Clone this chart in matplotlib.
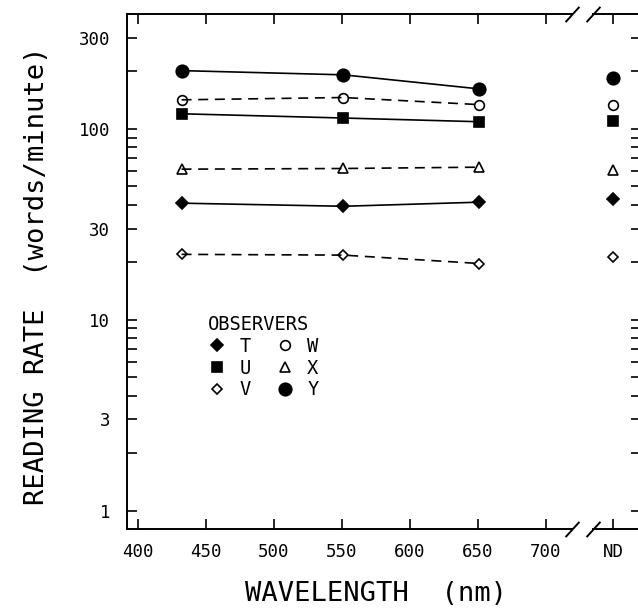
import matplotlib.pyplot as plt
from matplotlib.lines import Line2D

##########################################
# Data
##########################################
wavelength = [432, 551, 651]
observers = ['T', 'U', 'V', 'W', 'X', 'Y']
rate_T = [40.8, 39.3, 41.3]
rate_U = [120, 114, 109]
rate_V = [22.0, 21.8, 19.7]
rate_W = [142, 146, 134]
rate_X = [61.5, 62, 63]
rate_Y = [202, 192, 162]
# no-filter (ND) condition
nd_rate = {'T': 42.9, 'U': 110, 'V': 21.4, 'W': 134, 'X': 61, 'Y': 185}

xticks = [400, 450, 500, 550, 600, 650, 700]
yticks_labelled = [1, 3, 10, 30, 100, 300]
yticks_all = [m * 10 ** k for k in range(3) for m in range(1, 10)
              if m * 10 ** k <= 300]

##########################################
# Style for each observer
##########################################
style = {
    'T': dict(marker='D', ms=6, mfc='k', ls='-'),
    'U': dict(marker='s', ms=7, mfc='k', ls='-'),
    'V': dict(marker='D', ms=5.5, mfc='none', ls='--'),
    'W': dict(marker='o', ms=7, mfc='none', ls='--'),
    'X': dict(marker='^', ms=7, mfc='none', ls='--'),
    'Y': dict(marker='o', ms=9, mfc='k', ls='-'),
}
rates = {'T': rate_T, 'U': rate_U, 'V': rate_V,
         'W': rate_W, 'X': rate_X, 'Y': rate_Y}

plt.rcParams['font.family'] = 'DejaVu Sans Mono'

fig = plt.figure(figsize=(6.38, 6.09), dpi=100)
W, H = 638.0, 609.0
ax1 = fig.add_axes([127 / W, 1 - 529 / H, (572 - 127) / W, (529 - 14) / H])
ax2 = fig.add_axes([593 / W, 1 - 529 / H, (641 - 593) / W, (529 - 14) / H])

handles = []
for name in observers:
    st = style[name]
    ax1.plot(wavelength, rates[name], color='k', lw=1.2, ls=st['ls'],
             dashes=(6, 4) if st['ls'] == '--' else (None, None),
             marker=st['marker'], ms=st['ms'], mfc=st['mfc'],
             mec='k', mew=1.2)
    ax2.plot([0.42], [nd_rate[name]], color='k', ls='none',
             marker=st['marker'], ms=st['ms'], mfc=st['mfc'],
             mec='k', mew=1.2)
    handles.append(Line2D([], [], color='k', ls='none', marker=st['marker'],
                          ms=st['ms'], mfc=st['mfc'], mec='k', mew=1.2,
                          label=name))

for ax in (ax1, ax2):
    ax.set_yscale('log')
    ax.set_ylim(0.8, 400)
    ax.minorticks_off()
    for s in ax.spines.values():
        s.set_linewidth(1.4)

ax1.set_xlim(391.9, 719.1)
ax1.set_xticks(xticks)
ax1.set_yticks(yticks_all)
ax1.set_yticklabels([str(t) if t in yticks_labelled else '' for t in yticks_all])
ax1.tick_params(direction='in', length=7, width=1.2, labelsize=12.5,
                top=True, right=False)
ax1.tick_params(axis='y', pad=12)
ax1.tick_params(axis='x', pad=10)
ax1.spines['right'].set_visible(False)

ax2.set_xlim(0, 1)
ax2.set_xticks([0.42])
ax2.set_xticklabels(['ND'])
ax2.set_yticks(yticks_all)
ax2.tick_params(direction='in', length=7, width=1.2, labelsize=12.5,
                top=True, left=False, right=True, labelleft=False,
                labelright=False)
ax2.tick_params(axis='x', pad=10)
ax2.spines['left'].set_visible(False)

# axis break marks
brk = dict(marker=[(-1, -1.1), (1, 1.1)], markersize=11, ls='none',
           color='k', mec='k', mew=1.4, clip_on=False)
ax1.plot([1, 1], [0, 1], transform=ax1.transAxes, **brk)
ax2.plot([0, 0], [0, 1], transform=ax2.transAxes, **brk)

ax1.set_ylabel('READING RATE  (words/minute)', fontsize=19.5, va='center')
ax1.yaxis.set_label_coords((37 - 127) / 445, (529 - 276) / 515)
ax1.set_xlabel('WAVELENGTH  (nm)', fontsize=19.5, va='center')
ax1.xaxis.set_label_coords((376 - 127) / 445, (529 - 594) / 515)

ax1.legend(handles=handles, ncol=2, title='OBSERVERS', alignment='left',
           loc='upper left', bbox_to_anchor=(0.165, 0.43), frameon=False,
           fontsize=13.5, title_fontsize=13.5, handlelength=1.0,
           handletextpad=0.7, columnspacing=1.3, labelspacing=0.15,
           borderaxespad=0)

fig.savefig('out.png', dpi=100)
